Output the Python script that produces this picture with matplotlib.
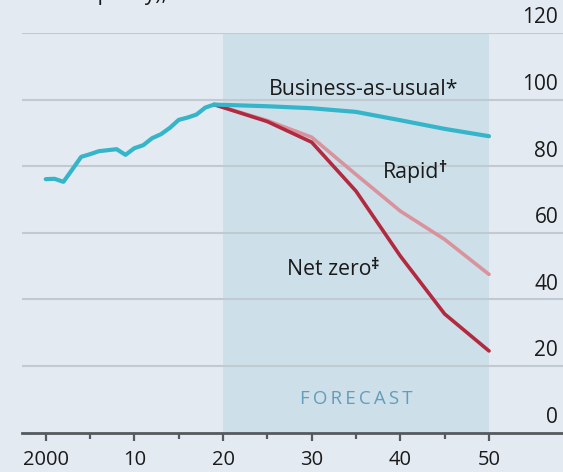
import matplotlib
matplotlib.use("Agg")
import matplotlib.pyplot as plt
import matplotlib.transforms as mtransforms

plt.rcParams['font.family'] = ['Open Sans', 'DejaVu Sans']

# ---- data ----
hist_years = list(range(2000, 2020))
hist_vals = [76.1, 76.2, 75.3, 79.0, 82.8, 83.6, 84.5, 84.8, 85.1, 83.4,
             85.4, 86.3, 88.4, 89.6, 91.5, 93.9, 94.6, 95.5, 97.6, 98.5]

fc_years = [2019, 2025, 2030, 2035, 2040, 2045, 2050]
bau_vals = [98.5, 98.0, 97.4, 96.3, 93.8, 91.2, 89.0]
rapid_vals = [98.5, 93.7, 88.7, 77.5, 66.5, 58.0, 47.5]
netzero_vals = [98.5, 93.4, 87.2, 72.5, 53.0, 35.6, 24.5]

y_ticks = [0, 20, 40, 60, 80, 100, 120]
x_major = [2000, 2010, 2020, 2030, 2040, 2050]
x_major_labels = ["2000", "10", "20", "30", "40", "50"]
x_minor = [2005, 2015, 2025, 2035, 2045]
forecast_span = (2020, 2050)

# ---- style ----
BG = "#e3eaf1"
SHADE = "#cddfe9"
GRID = "#c2cad1"
CYAN = "#35b5c9"
DARKRED = "#b22a3f"
LIGHTRED = "#d9939c"
TXT = "#1a1a1a"

fig = plt.figure(figsize=(5.63, 4.72), dpi=100)
fig.patch.set_facecolor(BG)
W, H = 563, 472
left_px, right_px = 21.7, 563
bot_px, top_px = 432.5, 33
ax = fig.add_axes([left_px / W, (H - bot_px) / H, (right_px - left_px) / W,
                   (bot_px - top_px) / H])
ax.set_facecolor(BG)

px_per_year = 8.866
x0 = 2000 - (45.7 - left_px) / px_per_year
x1 = 2000 + (right_px - 45.7) / px_per_year
ax.set_xlim(x0, x1)
ax.set_ylim(0, 120)

ax.axvspan(forecast_span[0], forecast_span[1], ymin=0, ymax=1, color=SHADE, zorder=1, lw=0)

for v in y_ticks[1:]:
    ax.axhline(v, color=GRID, lw=1.5, zorder=2)

ax.plot(fc_years, rapid_vals, color=LIGHTRED, lw=2.6, zorder=4, solid_capstyle='round')
ax.plot(fc_years, netzero_vals, color=DARKRED, lw=2.6, zorder=5, solid_capstyle='round')
ax.plot(fc_years, bau_vals, color=CYAN, lw=3.0, zorder=6, solid_capstyle='round')
ax.plot(hist_years, hist_vals, color=CYAN, lw=3.0, zorder=6, solid_capstyle='round',
        solid_joinstyle='round')

for s in ['top', 'right', 'left']:
    ax.spines[s].set_visible(False)
ax.spines['bottom'].set_color("#555a5e")
ax.spines['bottom'].set_linewidth(2.0)
ax.spines['bottom'].set_zorder(7)

ax.set_yticks([])
ax.set_xticks(x_major)
ax.set_xticklabels(x_major_labels, fontsize=14.5, color=TXT)
ax.set_xticks(x_minor, minor=True)
ax.tick_params(axis='x', which='major', length=6, width=1.6, color="#555a5e", pad=6.5)
ax.tick_params(axis='x', which='minor', length=4.5, width=1.6, color="#555a5e")

trans = mtransforms.blended_transform_factory(ax.transAxes, ax.transData)
for v in y_ticks:
    ax.text(0.991, v + 1.4, str(v), transform=trans, ha='right', va='bottom',
            fontsize=15, color=TXT, zorder=8)

ax.text(2035.9, 101.4, "Business-as-usual*", ha='center', va='baseline', fontsize=15.3,
        color=TXT, zorder=8)
rapid_y, nz_y = 76.4, 47.3
t_rapid = ax.text(2041.2, rapid_y, "Rapid", ha='center', va='baseline', fontsize=15.3,
                  color=TXT, zorder=8)
t_nz = ax.text(2032.0, nz_y, "Net zero", ha='center', va='baseline', fontsize=15.3,
               color=TXT, zorder=8)
ax.text(2035, 10, "F O R E C A S T".replace(" ", "\u2009"), ha='center', va='center',
        fontsize=13.5, color="#629dbc", zorder=8)

fig.text(168 / W, 1.0, "capacity),", ha='right', va='baseline',
         fontsize=15, color=TXT)

# superscript daggers placed right after the labels
fig.canvas.draw()
r = fig.canvas.get_renderer()
for t, sym, yv in [(t_rapid, "\u2020", rapid_y), (t_nz, "\u2021", nz_y)]:
    bb = t.get_window_extent(renderer=r)
    ax.annotate(sym, xy=(bb.x1, yv), xycoords=('figure pixels', 'data'),
                xytext=(-0.8, 4.5), textcoords='offset points',
                ha='left', va='baseline', fontsize=11.5, fontweight='bold', color=TXT,
                zorder=8, annotation_clip=False)

fig.savefig("out.png", dpi=100, facecolor=BG)
